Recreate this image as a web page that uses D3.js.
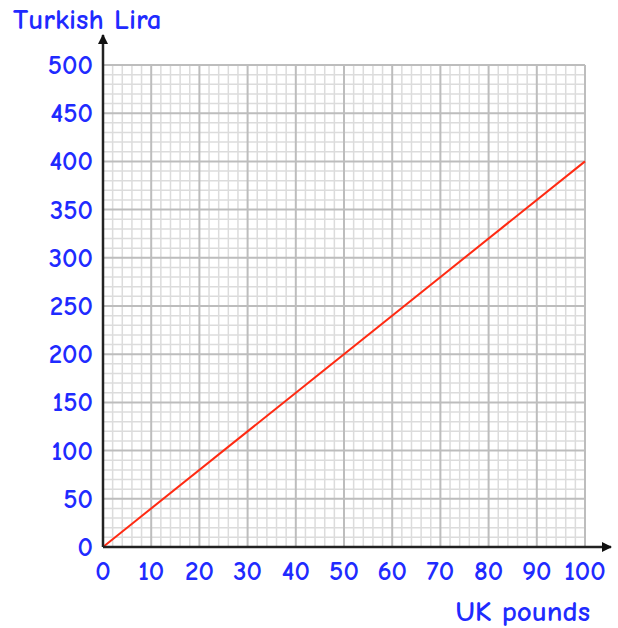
<!DOCTYPE html>
<html><head><meta charset="utf-8">
<script src="https://cdn.jsdelivr.net/npm/d3@7"></script>
<style>body{margin:0;background:#fff}text{font-family:"Comic Sans MS","Comic Neue","Noto Sans",sans-serif;fill:#1f2bff;font-weight:bold}</style>
</head><body>
<svg id="c" width="618" height="628"></svg>
<script>
const xTicks=[0,10,20,30,40,50,60,70,80,90,100];
const yTicks=[0,50,100,150,200,250,300,350,400,450,500];
const lineX=[0,100];
const lineY=[0,400];
const xTitle="UK pounds", yTitle="Turkish Lira";

const svg=d3.select("#c");
const x=d3.scaleLinear().domain([0,100]).range([103,585]);
const y=d3.scaleLinear().domain([0,500]).range([547,65]);

const minorX=d3.range(0,101,2), minorY=d3.range(0,501,10);
const g=svg.append("g");
g.selectAll(".mx").data(minorX.filter(d=>d%10)).join("line")
 .attr("x1",d=>x(d)).attr("x2",d=>x(d)).attr("y1",y(0)).attr("y2",y(500))
 .attr("stroke","#dcdcdc").attr("stroke-width",1.5);
g.selectAll(".my").data(minorY.filter(d=>d%50)).join("line")
 .attr("y1",d=>y(d)).attr("y2",d=>y(d)).attr("x1",x(0)).attr("x2",x(100))
 .attr("stroke","#dcdcdc").attr("stroke-width",1.5);
g.selectAll(".Mx").data(xTicks.slice(1)).join("line")
 .attr("x1",d=>x(d)).attr("x2",d=>x(d)).attr("y1",y(0)).attr("y2",y(500))
 .attr("stroke","#bdbdbd").attr("stroke-width",2);
g.selectAll(".My").data(yTicks.slice(1)).join("line")
 .attr("y1",d=>y(d)).attr("y2",d=>y(d)).attr("x1",x(0)).attr("x2",x(100))
 .attr("stroke","#bdbdbd").attr("stroke-width",2);

svg.append("path").datum(lineX.map((d,i)=>[d,lineY[i]]))
 .attr("d",d3.line().x(d=>x(d[0])).y(d=>y(d[1])))
 .attr("stroke","#ff2a12").attr("stroke-width",2).attr("fill","none");

svg.append("defs").append("marker").attr("id","ar").attr("viewBox","0 0 10 10")
 .attr("refX",9).attr("refY",5).attr("markerWidth",10).attr("markerHeight",10)
 .attr("markerUnits","userSpaceOnUse").attr("orient","auto")
 .append("path").attr("d","M0,0L10,5L0,10Z").attr("fill","#111");
svg.append("line").attr("x1",x(0)).attr("x2",611).attr("y1",y(0)).attr("y2",y(0))
 .attr("stroke","#222").attr("stroke-width",2.5).attr("marker-end","url(#ar)");
svg.append("line").attr("x1",x(0)).attr("x2",x(0)).attr("y1",y(0)).attr("y2",35)
 .attr("stroke","#222").attr("stroke-width",2.5).attr("marker-end","url(#ar)");

const fs=27;
svg.selectAll(".xl").data(xTicks).join("text")
 .attr("x",d=>x(d)).attr("y",580).attr("text-anchor","middle")
 .attr("font-size",fs).text(d=>d);
svg.selectAll(".yl").data(yTicks).join("text")
 .attr("x",93).attr("y",d=>y(d)+9).attr("text-anchor","end")
 .attr("font-size",fs).text(d=>d);
svg.append("text").attr("x",13).attr("y",29).attr("font-size",29).text(yTitle);
svg.append("text").attr("x",590).attr("y",621).attr("text-anchor","end").attr("font-size",29).text(xTitle);
</script></body></html>
